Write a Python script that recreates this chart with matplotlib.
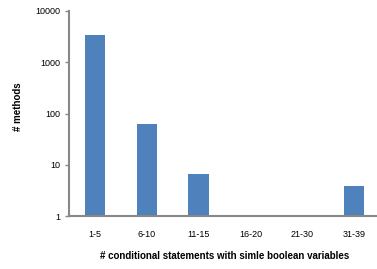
import matplotlib
matplotlib.use("Agg")
import matplotlib.pyplot as plt
from matplotlib.ticker import FixedLocator, FixedFormatter

categories = ["1-5", "6-10", "11-15", "16-20", "21-30", "31-39"]
methods = [3400, 62, 6.7, 0, 0, 3.9]
ytick_values = [1, 10, 100, 1000, 10000]
ytick_labels = ["1", "10", "100", "1000", "10000"]

plt.rcParams['font.family'] = ['Liberation Sans', 'DejaVu Sans']

fig = plt.figure(figsize=(3.77, 2.69), dpi=100)
ax = fig.add_axes([69/377, 1-216/269, 311/377, (216-11)/269])

x = list(range(len(categories)))
vals = [v if v > 0 else 1e-3 for v in methods]
ax.bar(x, vals, width=0.39, color="#4F81BD", bottom=1e-3)
ax.set_yscale("log")
ax.set_ylim(1, 10000)
ax.set_xlim(-0.5, 5.5)
ax.yaxis.set_major_locator(FixedLocator(ytick_values))
ax.yaxis.set_major_formatter(FixedFormatter(ytick_labels))
ax.yaxis.set_minor_locator(FixedLocator([]))
ax.set_xticks(x)
ax.set_xticklabels(categories)

for s in ["top", "right"]:
    ax.spines[s].set_visible(False)
for s in ["left", "bottom"]:
    ax.spines[s].set_color("#888888")
    ax.spines[s].set_linewidth(1.5)
ax.tick_params(axis="y", length=3, width=1, color="#888888", labelsize=6.5, pad=3)
ax.tick_params(axis="x", length=0, labelsize=6.5, pad=10)

ax.set_ylabel("# methods", fontsize=7, fontweight="bold", va="center")
ax.yaxis.set_label_coords((18-69)/311, (216-107)/205)
ax.set_xlabel("# conditional statements with simle boolean variables", fontsize=7, fontweight="bold", labelpad=9)

fig.savefig("out.png", dpi=100)
